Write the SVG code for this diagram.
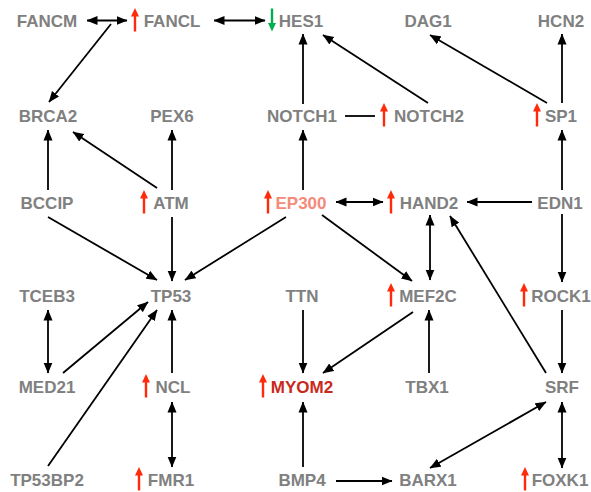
<svg xmlns="http://www.w3.org/2000/svg" xmlns:xlink="http://www.w3.org/1999/xlink" width="591" height="492" viewBox="0 0 591 492">
  <style>
    text { font-family: "Liberation Sans", Arial, sans-serif; font-weight: bold; font-size: 17px; fill: #808080; text-anchor: middle; }
    text.ep { fill: #f58a7b; }
    text.my { fill: #c9291b; }
    .edge { stroke: #000; stroke-width: 1.8; fill: none; }
    .to { marker-end: url(#ah); }
    .both { marker-start: url(#ah); marker-end: url(#ah); }
  </style>
  <defs>
    <marker id="ah" markerUnits="userSpaceOnUse" markerWidth="11" markerHeight="10" viewBox="0 0 11 10" refX="10.5" refY="5" orient="auto-start-reverse">
      <path d="M0,0.5 L11,5 L0,9.5 z" fill="#000"/>
    </marker>
    <!-- regulation marks: origin at the label baseline -->
    <path id="up" d="M0,-19 L4,-10.5 L1.2,-10.5 L1.2,4.5 L-1.2,4.5 L-1.2,-10.5 L-4,-10.5 z" fill="#ff2a0a"/>
    <path id="down" d="M0,4.5 L4,-4 L1.2,-4 L1.2,-18.5 L-1.2,-18.5 L-1.2,-4 L-4,-4 z" fill="#00b050"/>
  </defs>

  <g id="edges">
    <line class="edge both" x1="87" y1="20.5" x2="127" y2="20.5"/>
    <line class="edge both" x1="214" y1="20.5" x2="265" y2="20.5"/>
    <line class="edge to" x1="111" y1="24" x2="49" y2="102"/>
    <line class="edge to" x1="303" y1="104" x2="303" y2="34"/>
    <line class="edge to" x1="428" y1="103" x2="323" y2="35"/>
    <line class="edge" x1="345" y1="116" x2="375" y2="116"/>
    <line class="edge to" x1="547" y1="103" x2="430" y2="35"/>
    <line class="edge to" x1="562" y1="103" x2="562" y2="34"/>

    <line class="edge to" x1="48" y1="190" x2="48" y2="130"/>
    <line class="edge to" x1="157" y1="188" x2="73" y2="132"/>
    <line class="edge to" x1="172" y1="190" x2="172" y2="130"/>
    <line class="edge to" x1="303" y1="190" x2="303" y2="130"/>
    <line class="edge to" x1="562" y1="190" x2="562" y2="130"/>

    <line class="edge both" x1="336" y1="202" x2="383" y2="202"/>
    <line class="edge to" x1="532" y1="202" x2="467" y2="202"/>
    <line class="edge both" x1="430" y1="215" x2="430" y2="280"/>
    <line class="edge to" x1="562" y1="214" x2="562" y2="282"/>
    <line class="edge to" x1="546" y1="373" x2="450" y2="216"/>
    <line class="edge to" x1="322" y1="215" x2="412" y2="281"/>
    <line class="edge to" x1="48" y1="217" x2="157" y2="280"/>
    <line class="edge to" x1="172" y1="217" x2="172" y2="281"/>
    <line class="edge to" x1="286" y1="217" x2="185" y2="280"/>

    <line class="edge both" x1="48" y1="310" x2="48" y2="373"/>
    <line class="edge to" x1="63" y1="373" x2="148" y2="302"/>
    <line class="edge to" x1="48" y1="466" x2="157" y2="310"/>
    <line class="edge to" x1="172" y1="373" x2="172" y2="310"/>
    <line class="edge both" x1="172" y1="402" x2="172" y2="467"/>
    <line class="edge to" x1="303" y1="310" x2="303" y2="373"/>
    <line class="edge to" x1="413" y1="312" x2="323" y2="373"/>
    <line class="edge to" x1="429" y1="373" x2="429" y2="310"/>
    <line class="edge to" x1="303" y1="467" x2="303" y2="402"/>
    <line class="edge to" x1="336" y1="481" x2="392" y2="481"/>
    <line class="edge both" x1="546" y1="402" x2="430" y2="468"/>
    <line class="edge to" x1="562" y1="310" x2="562" y2="373"/>
    <line class="edge both" x1="562" y1="402" x2="562" y2="468"/>
  </g>

  <!-- row 1 -->
  <g id="FANCM"><text x="47" y="27">FANCM</text></g>
  <g id="FANCL"><use xlink:href="#up" x="135" y="27"/><text x="172" y="27">FANCL</text></g>
  <g id="HES1"><use xlink:href="#down" x="272" y="27"/><text x="301" y="27">HES1</text></g>
  <g id="DAG1"><text x="428" y="27">DAG1</text></g>
  <g id="HCN2"><text x="561" y="27">HCN2</text></g>

  <!-- row 2 -->
  <g id="BRCA2"><text x="48" y="122">BRCA2</text></g>
  <g id="PEX6"><text x="172" y="122">PEX6</text></g>
  <g id="NOTCH1"><text x="302" y="122">NOTCH1</text></g>
  <g id="NOTCH2"><use xlink:href="#up" x="384" y="122"/><text x="429" y="122">NOTCH2</text></g>
  <g id="SP1"><use xlink:href="#up" x="537" y="122"/><text x="561" y="122">SP1</text></g>

  <!-- row 3 -->
  <g id="BCCIP"><text x="47" y="209">BCCIP</text></g>
  <g id="ATM"><use xlink:href="#up" x="144" y="209"/><text x="171" y="209">ATM</text></g>
  <g id="EP300"><use xlink:href="#up" x="268" y="209"/><text class="ep" x="301" y="209">EP300</text></g>
  <g id="HAND2"><use xlink:href="#up" x="391" y="209"/><text x="429" y="209">HAND2</text></g>
  <g id="EDN1"><text x="560" y="209">EDN1</text></g>

  <!-- row 4 -->
  <g id="TCEB3"><text x="47" y="302">TCEB3</text></g>
  <g id="TP53"><text x="171" y="302">TP53</text></g>
  <g id="TTN"><text x="302" y="302">TTN</text></g>
  <g id="MEF2C"><use xlink:href="#up" x="391" y="302"/><text x="428" y="302">MEF2C</text></g>
  <g id="ROCK1"><use xlink:href="#up" x="524" y="302"/><text x="561" y="302">ROCK1</text></g>

  <!-- row 5 -->
  <g id="MED21"><text x="47" y="393">MED21</text></g>
  <g id="NCL"><use xlink:href="#up" x="146" y="393"/><text x="173" y="393">NCL</text></g>
  <g id="MYOM2"><use xlink:href="#up" x="263" y="393"/><text class="my" x="302" y="393">MYOM2</text></g>
  <g id="TBX1"><text x="427" y="393">TBX1</text></g>
  <g id="SRF"><text x="562" y="393">SRF</text></g>

  <!-- row 6 -->
  <g id="TP53BP2"><text x="47" y="486">TP53BP2</text></g>
  <g id="FMR1"><use xlink:href="#up" x="139" y="486"/><text x="171" y="486">FMR1</text></g>
  <g id="BMP4"><text x="302" y="486">BMP4</text></g>
  <g id="BARX1"><text x="428" y="486">BARX1</text></g>
  <g id="FOXK1"><use xlink:href="#up" x="525" y="486"/><text x="560" y="486">FOXK1</text></g>
</svg>
